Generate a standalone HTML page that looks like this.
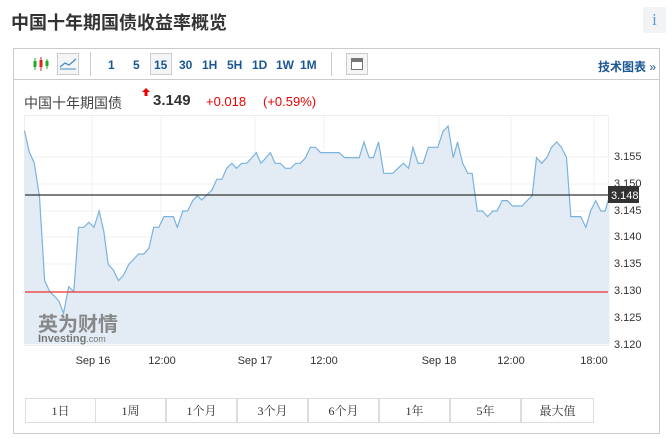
<!DOCTYPE html>
<html><head><meta charset="utf-8"><style>
body{margin:0;width:672px;height:438px;background:#fff;font-family:"Liberation Sans","Noto Sans CJK SC",sans-serif;position:relative;overflow:hidden}
.a{position:absolute;white-space:nowrap}
.tb{color:#1a5694;font-weight:bold;font-size:12px;top:58px}
.btn{position:absolute;top:398px;height:25px;width:71px;border:1px solid #ddd;box-sizing:border-box;text-align:center;line-height:24px;font-size:12px;color:#333;font-family:"Liberation Serif","Noto Serif CJK SC",serif}
.yl{position:absolute;left:614px;font-size:11px;color:#333}
.xl{position:absolute;top:355px;font-size:11px;color:#333;transform:translateX(-50%)}
</style></head><body>
<div class="a" style="left:11px;top:9px;font-size:18px;font-weight:bold;color:#333">中国十年期国债收益率概览</div>
<div class="a" style="left:643px;top:7px;width:23px;height:26px;background:#f1f3f5;color:#5a9bd5;font-size:17px;text-align:center;line-height:26px;font-family:'Liberation Serif',serif">i</div>
<div class="a" style="left:13px;top:48px;width:647px;height:386px;border:1px solid #ccc;box-sizing:border-box"></div>
<div class="a" style="left:14px;top:79px;width:645px;height:1px;background:#ccc"></div>
<svg class="a" style="left:32px;top:56px" width="18" height="16"><line x1="3" y1="2" x2="3" y2="14" stroke="#2a2" /><rect x="1.5" y="5" width="3" height="6" fill="#2a2"/><line x1="9" y1="1" x2="9" y2="15" stroke="#d22"/><rect x="7.5" y="4" width="3" height="7" fill="#d22"/><line x1="15" y1="3" x2="15" y2="13" stroke="#2a2"/><rect x="13.5" y="5" width="3" height="5" fill="#2a2"/></svg>
<div class="a" style="left:57px;top:53px;width:22px;height:22px;border:1px solid #ccc;box-sizing:border-box;background:#f3f5f7"></div>
<svg class="a" style="left:59px;top:57px" width="18" height="14"><polyline points="1,10 6,6 10,8 17,2" fill="none" stroke="#4a8bc8" stroke-width="1.3"/><line x1="1" y1="12" x2="17" y2="12" stroke="#4a8bc8"/></svg>
<div class="a" style="left:90px;top:52px;width:1px;height:24px;background:#ccc"></div>
<div class="a" style="left:150px;top:53px;width:22px;height:22px;border:1px solid #ccc;box-sizing:border-box;background:#f3f5f7"></div>
<div class="a tb" style="left:108px">1</div>
<div class="a tb" style="left:133px">5</div>
<div class="a tb" style="left:154px">15</div>
<div class="a tb" style="left:179px">30</div>
<div class="a tb" style="left:202px">1H</div>
<div class="a tb" style="left:227px">5H</div>
<div class="a tb" style="left:252px">1D</div>
<div class="a tb" style="left:276px">1W</div>
<div class="a tb" style="left:300px">1M</div>
<div class="a" style="left:331px;top:52px;width:1px;height:24px;background:#ccc"></div>
<div class="a" style="left:346px;top:53px;width:22px;height:22px;border:1px solid #ccc;box-sizing:border-box;background:#f3f5f7"></div>
<div class="a" style="left:351px;top:58px;width:12px;height:12px;border:1px solid #777;box-sizing:border-box;background:linear-gradient(#777 0 3px,#fff 3px)"></div>
<div class="a tb" style="left:598px">技术图表 <span style="font-weight:normal">»</span></div>
<div class="a" style="left:24px;top:93px;font-size:14px;color:#444">中国十年期国债</div>
<svg class="a" style="left:142px;top:88px" width="8" height="9"><polygon points="4,0 8,4 5.5,4 5.5,8 2.5,8 2.5,4 0,4" fill="#e00"/></svg>
<div class="a" style="left:153px;top:92px;font-size:15px;font-weight:bold;color:#333">3.149</div>
<div class="a" style="left:206px;top:94px;font-size:13px;color:#e00">+0.018</div>
<div class="a" style="left:263px;top:94px;font-size:13px;color:#e00">(+0.59%)</div>
<svg class="a" style="left:0;top:0" width="672" height="438">
<rect x="24.5" y="115.5" width="584" height="230" fill="none" stroke="#eee"/>
<g stroke="#f0f0f0">
<line x1="92" y1="116" x2="92" y2="345"/><line x1="161" y1="116" x2="161" y2="345"/><line x1="255" y1="116" x2="255" y2="345"/><line x1="324" y1="116" x2="324" y2="345"/><line x1="439" y1="116" x2="439" y2="345"/><line x1="511" y1="116" x2="511" y2="345"/><line x1="594" y1="116" x2="594" y2="345"/>
<line x1="25" y1="157" x2="608" y2="157"/><line x1="25" y1="184" x2="608" y2="184"/><line x1="25" y1="211" x2="608" y2="211"/><line x1="25" y1="237" x2="608" y2="237"/><line x1="25" y1="264" x2="608" y2="264"/><line x1="25" y1="318" x2="608" y2="318"/>
</g>
<g transform="translate(0,110) scale(0.4292,0.3333)">
<polygon fill="#e3ecf5" points="57,703 57,62 68,125 80,160 92,260 104,512 116,545 128,560 138,575 148,610 160,530 172,545 183,352 195,352 207,337 219,352 231,303 242,365 252,463 264,480 276,512 288,495 300,463 312,447 323,432 335,432 347,415 358,352 370,352 382,320 394,320 404,320 413,352 426,303 437,303 449,272 460,257 470,270 482,255 494,240 505,208 517,208 528,175 540,160 551,175 563,160 575,160 587,143 597,128 608,160 620,143 630,128 641,160 653,160 665,175 677,175 689,160 700,160 712,143 723,112 735,112 747,128 790,128 803,143 837,143 848,96 860,143 870,143 882,96 894,190 915,190 927,175 940,160 952,175 962,112 974,160 986,160 998,112 1020,112 1032,65 1044,48 1056,143 1066,96 1078,160 1090,190 1100,190 1112,303 1124,303 1136,320 1148,303 1158,303 1170,272 1182,272 1194,288 1216,288 1228,272 1240,257 1250,143 1262,160 1274,143 1285,112 1297,96 1308,112 1320,143 1330,320 1342,320 1353,320 1365,352 1376,303 1388,272 1400,303 1410,303 1420,257 1420,703"/>
<polyline fill="none" stroke="#7ab3de" stroke-width="1.2" vector-effect="non-scaling-stroke" points="57,62 68,125 80,160 92,260 104,512 116,545 128,560 138,575 148,610 160,530 172,545 183,352 195,352 207,337 219,352 231,303 242,365 252,463 264,480 276,512 288,495 300,463 312,447 323,432 335,432 347,415 358,352 370,352 382,320 394,320 404,320 413,352 426,303 437,303 449,272 460,257 470,270 482,255 494,240 505,208 517,208 528,175 540,160 551,175 563,160 575,160 587,143 597,128 608,160 620,143 630,128 641,160 653,160 665,175 677,175 689,160 700,160 712,143 723,112 735,112 747,128 790,128 803,143 837,143 848,96 860,143 870,143 882,96 894,190 915,190 927,175 940,160 952,175 962,112 974,160 986,160 998,112 1020,112 1032,65 1044,48 1056,143 1066,96 1078,160 1090,190 1100,190 1112,303 1124,303 1136,320 1148,303 1158,303 1170,272 1182,272 1194,288 1216,288 1228,272 1240,257 1250,143 1262,160 1274,143 1285,112 1297,96 1308,112 1320,143 1330,320 1342,320 1353,320 1365,352 1376,303 1388,272 1400,303 1410,303 1420,257"/>
</g>
<line x1="25" y1="195" x2="608" y2="195" stroke="#333" stroke-width="1.3"/>
<line x1="25" y1="292" x2="608" y2="292" stroke="#e33" stroke-width="1.2"/>
<rect x="608" y="186" width="31" height="17" fill="#333"/>
<text x="611" y="199" font-size="11" fill="#fff" font-family="Liberation Sans">3.148</text>
<text x="38" y="331" font-size="20" font-weight="bold" fill="#777" font-family="Liberation Sans,Noto Sans CJK SC,sans-serif" opacity="0.85">英为财情</text>
<text x="38" y="342" font-size="11" font-weight="bold" fill="#777" font-family="Liberation Sans,sans-serif">Investing<tspan font-weight="normal" font-size="9">.com</tspan></text>
</svg>
<div class="yl" style="top:151px">3.155</div>
<div class="yl" style="top:178px">3.150</div>
<div class="yl" style="top:205px">3.145</div>
<div class="yl" style="top:231px">3.140</div>
<div class="yl" style="top:258px">3.135</div>
<div class="yl" style="top:285px">3.130</div>
<div class="yl" style="top:312px">3.125</div>
<div class="yl" style="top:339px">3.120</div>
<div class="xl" style="left:93px">Sep 16</div>
<div class="xl" style="left:162px">12:00</div>
<div class="xl" style="left:255px">Sep 17</div>
<div class="xl" style="left:324px">12:00</div>
<div class="xl" style="left:439px">Sep 18</div>
<div class="xl" style="left:511px">12:00</div>
<div class="xl" style="left:594px">18:00</div>
<div class="btn" style="left:25px">1日</div>
<div class="btn" style="left:95px">1周</div>
<div class="btn" style="left:166px">1个月</div>
<div class="btn" style="left:237px">3个月</div>
<div class="btn" style="left:308px">6个月</div>
<div class="btn" style="left:379px">1年</div>
<div class="btn" style="left:450px">5年</div>
<div class="btn" style="left:521px;width:73px">最大值</div>
</body></html>
